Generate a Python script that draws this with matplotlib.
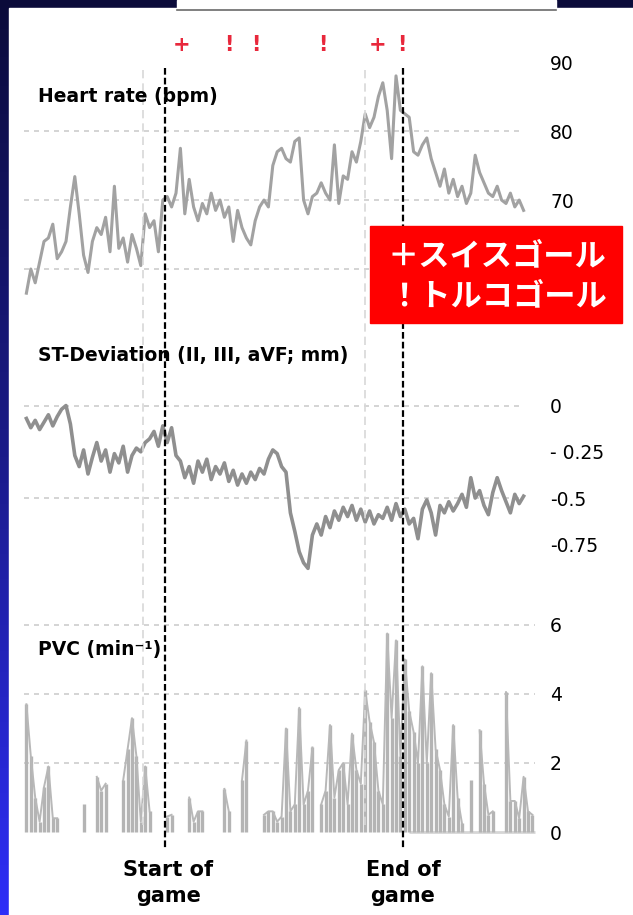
import numpy as np
import matplotlib
matplotlib.use('Agg')
import matplotlib.pyplot as plt
from matplotlib.patches import Rectangle
from matplotlib.colors import LinearSegmentedColormap

W, H = 633, 915

# minutes relative to kick-off, one reading every 2 minutes
minutes = np.arange(-63, 164, 2)
pvc_minutes = np.arange(-63, 168, 2)

heart_rate = [
    56.5, 60, 58, 61, 64, 64.5, 66.5, 61.5, 62.5, 64,
    69, 73.4, 68, 62, 59.5, 64, 66, 65, 67.5, 62.5,
    72, 63, 64.5, 61, 65, 63, 60.5, 68, 66, 67,
    62.5, 70, 70.5, 69, 71, 77.5, 68, 73, 69, 67,
    69.5, 68, 71, 68.5, 70, 67.5, 69, 64, 68.5, 66,
    64.5, 63.5, 67, 69, 70, 69, 75, 77, 77.5, 76,
    75.5, 78.5, 79, 70, 68, 70.5, 71, 72.5, 71, 70,
    78, 69.5, 73.5, 73, 77, 75.5, 78.5, 82.5, 80.5, 82,
    85, 87, 83, 76, 88, 83, 82.5, 82, 77, 76.5,
    78, 79, 76, 74, 72, 74.5, 71, 73, 70.5, 72,
    69.5, 71, 76.5, 74, 72.5, 71, 70.5, 72, 70, 69.5,
    71, 69, 70, 68.5,
]

st_deviation = [
    -0.07, -0.12, -0.08, -0.13, -0.09, -0.05, -0.11, -0.06, -0.02, 0.00,
    -0.10, -0.27, -0.33, -0.24, -0.37, -0.28, -0.20, -0.30, -0.24, -0.36,
    -0.26, -0.31, -0.22, -0.36, -0.27, -0.23, -0.25, -0.20, -0.18, -0.14,
    -0.22, -0.11, -0.20, -0.12, -0.27, -0.30, -0.39, -0.33, -0.42, -0.30,
    -0.36, -0.29, -0.40, -0.33, -0.37, -0.31, -0.41, -0.35, -0.43, -0.37,
    -0.42, -0.36, -0.40, -0.34, -0.37, -0.29, -0.24, -0.26, -0.33, -0.36,
    -0.58, -0.68, -0.79, -0.85, -0.88, -0.70, -0.64, -0.70, -0.60, -0.66,
    -0.57, -0.62, -0.55, -0.60, -0.54, -0.62, -0.56, -0.63, -0.57, -0.64,
    -0.59, -0.61, -0.55, -0.62, -0.53, -0.60, -0.56, -0.64, -0.61, -0.72,
    -0.56, -0.51, -0.58, -0.70, -0.54, -0.58, -0.52, -0.57, -0.53, -0.48,
    -0.55, -0.39, -0.50, -0.46, -0.54, -0.59, -0.47, -0.39, -0.46, -0.52,
    -0.58, -0.48, -0.53, -0.49,
]

pvc_rate = [
    3.7, 2.2, 1.0, 0.3, 1.3, 1.9, 0.4, 0.4, 0, 0,
    0, 0, 0, 0.8, 0, 0, 1.6, 1.2, 1.4, 0,
    0, 0, 1.5, 2.4, 3.3, 2.2, 0.3, 1.9, 0.6, 0,
    0, 0, 0.45, 0.5, 0, 0, 0, 1.0, 0.3, 0.6,
    0.6, 0, 0, 0, 0, 1.25, 0.6, 0, 0, 1.5,
    2.65, 0, 0, 0, 0.5, 0.6, 0.6, 0.3, 0.45, 3.0,
    0.6, 0.8, 3.6, 0.8, 1.2, 2.45, 0, 0.8, 1.2, 3.1,
    1.0, 1.8, 2.0, 0.8, 2.85, 1.8, 1.4, 4.1, 3.2, 2.6,
    1.2, 0.8, 5.75, 3.3, 5.55, 2.2, 5.0, 3.5, 2.9, 2.0,
    4.8, 2.0, 4.6, 2.4, 1.8, 0.8, 0.45, 3.1, 1.0, 0.25,
    0, 1.5, 0, 2.95, 1.4, 0.5, 0.6, 0, 0, 4.05,
    0.9, 0.9, 0.4, 1.6, 0.6, 0.5,
]

goal_minutes = [7.7, 29, 41.4, 71.8, 96.8, 107.7]
goal_marks = ['+', '!', '!', '!', '+', '!']
game_start, game_end = 0, 108.2
faint_marks = [-10, 91]

hr_ticks = [90, 80, 70]
hr_grid = [80, 70, 60]
st_ticks = [0, -0.25, -0.5, -0.75]
st_labels = ['0', '- 0.25', '-0.5', '-0.75']
st_grid = [0, -0.5]
pvc_ticks = [6, 4, 2, 0]
pvc_grid = [6, 4, 2]

XMIN, XMAX = -64, 170
PX_PER_MIN = 2.2
x_left = 165 + PX_PER_MIN * XMIN
x_right = 165 + PX_PER_MIN * XMAX


def box(x0, y0, x1, y1):
    # pixel box (origin top-left) -> figure fraction
    return [x0 / W, 1 - y1 / H, (x1 - x0) / W, (y1 - y0) / H]


fig = plt.figure(figsize=(W / 100, H / 100), dpi=100, facecolor='#0b0b3a')

# slide background
bg = fig.add_axes([0, 0, 1, 1])
bg.axis('off')
strip = LinearSegmentedColormap.from_list('strip', ['#0b0b3a', '#1b1b8a', '#2e2ef8'])
bg.imshow(np.linspace(0, 1, 256).reshape(-1, 1), cmap=strip, extent=(0, 9, H, 0),
          aspect='auto', origin='upper')
bg.add_patch(Rectangle((9, 8), W - 9, H - 8, color='white'))
bg.add_patch(Rectangle((177, 0), 379, 9, color='white'))
bg.plot([177, 556], [9.5, 9.5], color='#6a6a6a', lw=1.2)
bg.set_xlim(0, W)
bg.set_ylim(H, 0)

grid_kw = dict(colors='#cdcdcd', linestyles=(0, (3, 3)), lw=1.2)
trace = '#a2a2a2'


def panel(top, bottom, ylim, ticks, labels):
    ax = fig.add_axes(box(x_left, top, x_right, bottom))
    ax.set_xlim(XMIN, XMAX)
    ax.set_ylim(*ylim)
    ax.patch.set_alpha(0)
    for s in ax.spines.values():
        s.set_visible(False)
    ax.tick_params(axis='x', bottom=False, labelbottom=False)
    ax.yaxis.tick_right()
    ax.set_yticks(ticks)
    ax.set_yticklabels(labels)
    ax.tick_params(axis='y', length=0, pad=8, labelsize=13.5)
    return ax


# heart rate
ax1 = panel(60, 310, (54.06, 90.3), hr_ticks, [str(v) for v in hr_ticks])
ax1.hlines(hr_grid, -64, 161, **grid_kw)
ax1.plot(minutes, heart_rate, color=trace, lw=2.2)

# ST deviation
ax2 = panel(380, 590, (-0.997, 0.138), st_ticks, st_labels)
ax2.hlines(st_grid, -64, 163, **grid_kw)
ax2.plot(minutes, st_deviation, color='#8f8f8f', lw=2.6)

# PVC
ax3 = panel(610, 840, (-0.23, 6.43), pvc_ticks, [str(v) for v in pvc_ticks])
ax3.hlines(pvc_grid, -64, 168, **grid_kw)
ax3.hlines(0, 111, 168, colors='#d6d6d6', lw=2)
pvc = np.array(pvc_rate, dtype=float)
ax3.vlines(pvc_minutes, 0, pvc, colors='#b4b4b4', lw=2.4)
ax3.plot(pvc_minutes, np.where(pvc > 0, pvc, np.nan), color='#b8b8b8', lw=1.4)

# event overlay (x in minutes, y in pixels)
ov = fig.add_axes(box(x_left, 0, x_right, H), zorder=5)
ov.set_xlim(XMIN, XMAX)
ov.set_ylim(H, 0)
ov.axis('off')
ov.vlines(faint_marks, 70, 830, colors='#d8d8d8', linestyles=(0, (5, 3)), lw=1.2)
ov.vlines([game_start, game_end], 68, 850, colors='black', linestyles=(0, (3, 1.4)), lw=1.6)
for m, s in zip(goal_minutes, goal_marks):
    ov.text(m, 45, s, color='#e8283c', fontsize=15, fontweight='bold', ha='center', va='center')
ov.text(game_start + 1.5, 883, 'Start of\ngame', fontsize=15, fontweight='bold',
        ha='center', va='center', linespacing=1.4)
ov.text(game_end, 883, 'End of\ngame', fontsize=15, fontweight='bold',
        ha='center', va='center', linespacing=1.4)

# labels and red note box
fg = fig.add_axes([0, 0, 1, 1], zorder=10)
fg.set_xlim(0, W)
fg.set_ylim(H, 0)
fg.axis('off')
fg.text(38, 97, 'Heart rate (bpm)', fontsize=13.5, fontweight='bold', va='center')
fg.text(38, 356, 'ST-Deviation (II, III, aVF; mm)', fontsize=13.5, fontweight='bold', va='center')
fg.text(38, 650, 'PVC (min⁻¹)', fontsize=13.5, fontweight='bold', va='center')
fg.add_patch(Rectangle((370, 226), 252, 97, color='#ff0000'))
jp = ['Noto Sans CJK JP', 'DejaVu Sans']
fg.text(388, 256, '＋スイスゴール', color='white', fontsize=22.5, fontweight='bold',
        family=jp, va='center')
fg.text(388, 296, '！トルコゴール', color='white', fontsize=22.5, fontweight='bold',
        family=jp, va='center')

fig.savefig('out.png', dpi=100, facecolor=fig.get_facecolor())
